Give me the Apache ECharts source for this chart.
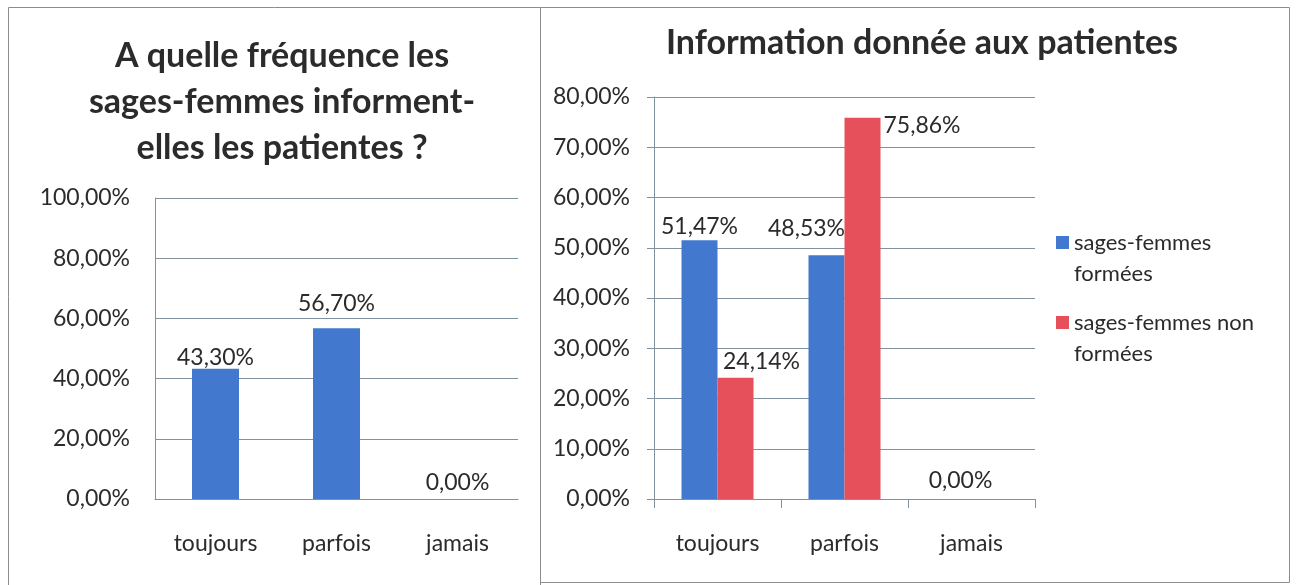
<!DOCTYPE html>
<html>
<head>
<meta charset="utf-8">
<script src="https://cdn.jsdelivr.net/npm/echarts@6/dist/echarts.min.js"></script>
<style>
  html, body { margin: 0; padding: 0; background: #fff; }
  #chart { width: 1298px; height: 585px; }
</style>
</head>
<body>
<div id="chart"></div>
<script>
// categories shared by both charts
const categories = ['toujours', 'parfois', 'jamais']

// left chart: one series
const frequenceValues = [43.30, 56.70, 0.00]

// right chart: two series
const seriesNames = ['sages-femmes\nformées', 'sages-femmes non\nformées']
const formeesValues = [51.47, 48.53, 0.00]
const nonFormeesValues = [24.14, 75.86, 0.00]

// tick labels
const leftTicks = [0, 20, 40, 60, 80, 100]
const rightTicks = [0, 10, 20, 30, 40, 50, 60, 70, 80]

const FONT = 'Lato'
const TEXT = '#2b2b2b'
const GRID = '#7f929e'
const BLUE = '#4279cf'
const RED = '#e5505a'

const pct = v => v.toFixed(2).replace('.', ',') + '%'

const chart = echarts.init(document.getElementById('chart'))

const labelStyle = {
  show: true,
  position: 'top',
  color: TEXT,
  fontFamily: FONT,
  fontSize: 23,
  formatter: p => pct(p.value)
}

const option = {
  animation: false,
  textStyle: { fontFamily: FONT },
  title: [{
    text: 'A quelle fréquence les\nsages-femmes informent-\nelles les patientes ?',
    left: 277,
    top: 28,
    textAlign: 'center',
    textStyle: { fontFamily: FONT, fontWeight: 'bold', fontSize: 34, lineHeight: 46, color: TEXT }
  }, {
    text: 'Information donnée aux patientes',
    left: 917,
    top: 21,
    textAlign: 'center',
    textStyle: { fontFamily: FONT, fontWeight: 'bold', fontSize: 34, color: TEXT }
  }],
  legend: {
    orient: 'vertical',
    left: 1051,
    top: 191,
    itemWidth: 13,
    itemHeight: 13,
    itemGap: -13,
    selectedMode: false,
    icon: 'rect',
    data: seriesNames,
    // blank first line keeps the marker level with the first text line
    formatter: name => ' \n' + name,
    textStyle: { fontFamily: FONT, fontSize: 22, color: TEXT, lineHeight: 31 }
  },
  grid: [
    { left: 155, top: 198, width: 363, height: 301 },
    { left: 654, top: 97, width: 381, height: 402 }
  ],
  xAxis: [{
    gridIndex: 0,
    type: 'category',
    data: categories,
    axisLine: { lineStyle: { color: GRID } },
    axisTick: { show: false },
    axisLabel: { color: TEXT, fontFamily: FONT, fontSize: 23, margin: 33 }
  }, {
    gridIndex: 1,
    type: 'category',
    data: categories,
    axisLine: { lineStyle: { color: GRID } },
    axisTick: { show: true, length: 9, lineStyle: { color: GRID } },
    axisLabel: { color: TEXT, fontFamily: FONT, fontSize: 23, margin: 33 }
  }],
  yAxis: [{
    gridIndex: 0,
    type: 'value',
    min: leftTicks[0],
    max: leftTicks[leftTicks.length - 1],
    interval: leftTicks[1] - leftTicks[0],
    axisLine: { show: true, lineStyle: { color: GRID } },
    axisTick: { show: false },
    splitLine: { lineStyle: { color: GRID } },
    axisLabel: { color: TEXT, fontFamily: FONT, fontSize: 23, margin: 25, formatter: v => pct(v) }
  }, {
    gridIndex: 1,
    type: 'value',
    min: rightTicks[0],
    max: rightTicks[rightTicks.length - 1],
    interval: rightTicks[1] - rightTicks[0],
    axisLine: { show: true, lineStyle: { color: GRID } },
    axisTick: { show: true, length: 7, lineStyle: { color: GRID } },
    splitLine: { lineStyle: { color: GRID } },
    axisLabel: { color: TEXT, fontFamily: FONT, fontSize: 23, margin: 24, formatter: v => pct(v) }
  }],
  series: [{
    type: 'bar',
    xAxisIndex: 0,
    yAxisIndex: 0,
    barWidth: 47,
    itemStyle: { color: BLUE },
    label: labelStyle,
    data: frequenceValues.map((v, i) => {
      if (i === 0) return { value: v, label: { offset: [0, 5] } }
      if (i === 1) return { value: v, label: { offset: [0, -8] } }
      return v
    })
  }, {
    name: seriesNames[0],
    type: 'bar',
    xAxisIndex: 1,
    yAxisIndex: 1,
    barWidth: 36,
    barGap: '0%',
    itemStyle: { color: BLUE },
    label: labelStyle,
    data: formeesValues.map((v, i) => {
      if (i === 0) return { value: v, label: { offset: [0, 3] } }
      if (i === 1) return { value: v, label: { offset: [-20, -10] } }
      return { value: v, label: { offset: [7, -2] } }
    })
  }, {
    name: seriesNames[1],
    type: 'bar',
    xAxisIndex: 1,
    yAxisIndex: 1,
    barWidth: 36,
    barGap: '0%',
    itemStyle: { color: RED },
    label: labelStyle,
    data: nonFormeesValues.map((v, i) => {
      if (i === 0) return { value: v, label: { offset: [26, 0] } }
      if (i === 1) return { value: v, label: { position: ['100%', 0], offset: [3, -4] } }
      return { value: v, label: { show: false } }
    })
  }],
  graphic: [{
    type: 'rect',
    shape: { x: 8.5, y: 7.5, width: 532, height: 590 },
    style: { fill: 'none', stroke: '#8c8c8c', lineWidth: 1 }
  }, {
    type: 'rect',
    shape: { x: 540.5, y: 7.5, width: 749, height: 575 },
    style: { fill: 'none', stroke: '#8c8c8c', lineWidth: 1 }
  }]
}

chart.setOption(option)
</script>
</body>
</html>
